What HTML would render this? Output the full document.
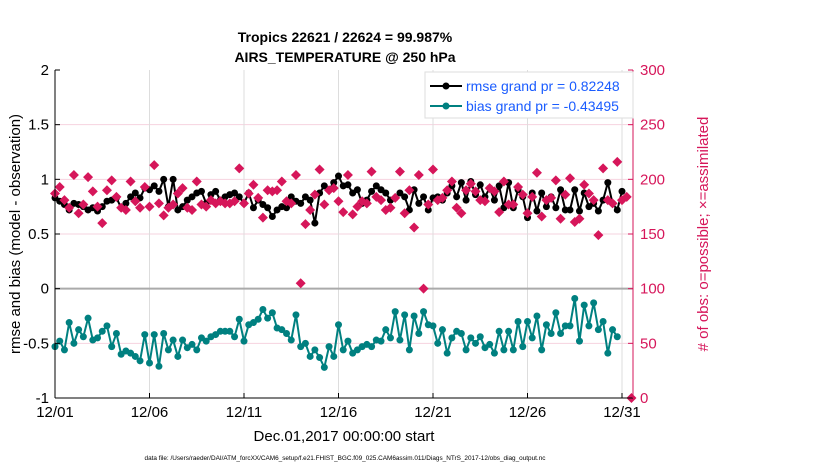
<!DOCTYPE html>
<html><head><meta charset="utf-8"><style>
body{margin:0;background:#fff;width:830px;height:470px;overflow:hidden}
svg{font-family:"Liberation Sans",Arial,sans-serif}
</style></head><body>
<svg id="chart" width="830" height="470">
<text x="345" y="42" text-anchor="middle" font-size="14" font-weight="bold">Tropics 22621 / 22624 = 99.987%</text>
<text x="345" y="62" text-anchor="middle" font-size="14" font-weight="bold">AIRS_TEMPERATURE @ 250 hPa</text>
<g id="grid"></g><g id="series"></g><g id="axes"></g>
<text transform="translate(20,234) rotate(-90)" text-anchor="middle" font-size="15">rmse and bias (model - observation)</text>
<text transform="translate(708,234) rotate(-90)" text-anchor="middle" font-size="15" fill="#d6165a"># of obs: o=possible; ×=assimilated</text>
<text x="344" y="441" text-anchor="middle" font-size="15">Dec.01,2017 00:00:00 start</text>
<text x="345" y="460" text-anchor="middle" font-size="6.4">data file: /Users/raeder/DAI/ATM_forcXX/CAM6_setup/f.e21.FHIST_BGC.f09_025.CAM6assim.011/Diags_NTrS_2017-12/obs_diag_output.nc</text>
<g>
<rect x="425" y="72" width="208" height="46" fill="#fff" stroke="#ddd"/>
<line x1="430" y1="86" x2="462" y2="86" stroke="#000" stroke-width="2"/><circle cx="446" cy="86" r="3.5" fill="#000"/>
<text x="466" y="91" font-size="14" fill="#1a5cff">rmse grand pr = 0.82248</text>
<line x1="430" y1="106" x2="462" y2="106" stroke="#008080" stroke-width="2"/><circle cx="446" cy="106" r="3.5" fill="#008080"/>
<text x="466" y="111" font-size="14" fill="#1a5cff">bias grand pr = -0.43495</text>
</g>
</svg>
<script>
const xTickLabels=["12/01","12/06","12/11","12/16","12/21","12/26","12/31"];
const yTicks=[-1,-0.5,0,0.5,1,1.5,2];
const yTickLabels=["-1","-0.5","0","0.5","1","1.5","2"];
const rTicks=[0,50,100,150,200,250,300];
const stepDays=0.25;
const rmse=[0.83,0.80,0.77,0.72,0.78,0.77,0.75,0.72,0.74,0.71,0.75,0.80,0.81,0.83,0.74,0.78,0.84,0.875,0.83,0.92,0.905,0.94,0.89,1.0,0.75,1.0,0.72,0.75,0.81,0.84,0.875,0.89,0.78,0.86,0.89,0.81,0.84,0.86,0.875,0.84,
0.78,0.875,0.74,0.81,0.77,0.74,0.66,0.72,0.75,0.74,0.84,0.80,0.78,0.84,0.81,0.60,0.875,0.94,0.905,0.97,1.03,0.94,0.95,0.875,0.905,0.78,0.81,0.89,0.94,0.905,0.875,0.81,0.83,0.875,0.84,0.72,0.905,0.78,0.84,0.72,0.83,0.84,
0.81,0.875,0.94,0.84,0.97,0.81,0.98,0.86,0.95,0.84,0.92,0.81,0.94,0.74,0.97,0.74,0.905,0.84,0.65,0.875,0.71,0.875,0.75,0.84,0.74,0.905,0.72,0.72,0.905,0.71,0.875,0.75,0.78,0.71,0.81,0.97,0.78,0.72,0.89];
const bias=[-0.53,-0.48,-0.56,-0.31,-0.50,-0.375,-0.44,-0.27,-0.47,-0.45,-0.39,-0.34,-0.53,-0.41,-0.60,-0.57,-0.59,-0.62,-0.66,-0.42,-0.68,-0.42,-0.71,-0.41,-0.56,-0.47,-0.62,-0.47,-0.54,-0.51,-0.56,-0.45,-0.48,-0.44,-0.42,-0.39,-0.39,-0.39,-0.44,-0.28,
-0.48,-0.33,-0.31,-0.28,-0.19,-0.27,-0.22,-0.36,-0.375,-0.41,-0.47,-0.24,-0.53,-0.50,-0.62,-0.56,-0.63,-0.72,-0.53,-0.62,-0.33,-0.56,-0.48,-0.59,-0.56,-0.53,-0.51,-0.53,-0.47,-0.48,-0.375,-0.45,-0.21,-0.47,-0.24,-0.56,-0.25,-0.41,-0.21,-0.33,-0.34,-0.50,
-0.375,-0.59,-0.45,-0.39,-0.41,-0.56,-0.45,-0.50,-0.44,-0.54,-0.51,-0.59,-0.39,-0.56,-0.39,-0.56,-0.30,-0.53,-0.30,-0.45,-0.25,-0.56,-0.33,-0.41,-0.22,-0.41,-0.34,-0.34,-0.09,-0.48,-0.15,-0.34,-0.13,-0.375,-0.30,-0.59,-0.375,-0.44];
const obsCount=[187,193,181,174,204,169,177,202,189,175,160,190,199,184,174,172,198,180,174,193,175,213,178,167,174,177,187,192,174,172,198,177,175,181,178,180,178,178,180,210,178,
187,195,183,165,190,189,190,198,180,178,204,105,159,172,186,209,177,190,192,180,170,204,168,175,180,178,207,184,181,172,174,183,207,169,190,156,204,100,177,209,181,
183,190,198,174,169,190,196,189,181,180,192,189,170,198,177,177,193,186,169,184,206,166,181,183,199,164,186,201,161,164,195,187,181,149,210,181,178,216,181,184,0];
const NS="http://www.w3.org/2000/svg";
const L=55,R=633,T=70,B=398,dayPx=(622-55)/30;
const xs=d=>L+d*dayPx;
const yL=v=>B-(v+1)/3*(B-T);
const yR=c=>B-c/300*(B-T);
function mk(tag,attrs,parent){const e=document.createElementNS(NS,tag);for(const k in attrs)e.setAttribute(k,attrs[k]);parent.appendChild(e);return e;}
const grid=document.getElementById('grid'),ser=document.getElementById('series'),ax=document.getElementById('axes');
yTicks.forEach((v,i)=>{
 if(v!==0&&v!==2){const g=mk('line',{x1:L,x2:R,y1:yL(v),y2:yL(v),stroke:'#f6d3df','stroke-width':1},grid);
 
 }
 mk('line',{x1:L,x2:L+5,y1:yL(v),y2:yL(v),stroke:'#000'},ax);
 const t=mk('text',{x:L-6,y:yL(v)+5,'text-anchor':'end','font-size':15},ax);t.textContent=yTickLabels[i];
 
 
});
rTicks.forEach(c=>{
 mk('line',{x1:R-5,x2:R,y1:yR(c),y2:yR(c),stroke:'#d6165a'},ax);
 const t=mk('text',{x:R+7,y:yR(c)+5,'font-size':15,fill:'#d6165a'},ax);t.textContent=c;
 
 
});
xTickLabels.forEach((s,i)=>{
 const x=xs(i*5);
 if(i>0){const g=mk('line',{x1:x,x2:x,y1:T,y2:B,stroke:'#ddd'},grid);
 
 }
 mk('line',{x1:x,x2:x,y1:B,y2:B-5,stroke:'#000'},ax);
 const t=mk('text',{x:x,y:417,'text-anchor':'middle','font-size':15},ax);t.textContent=s;
 
 
});
const z=mk('line',{x1:L,x2:R,y1:yL(0),y2:yL(0),stroke:'#aaa','stroke-width':2},grid);


mk('line',{x1:L,x2:L,y1:T,y2:B,stroke:'#000'},ax);
mk('line',{x1:L,x2:R,y1:B,y2:B,stroke:'#000'},ax);
mk('line',{x1:R,x2:R,y1:T,y2:B,stroke:'#d6165a'},ax);
function line(arr,col,name){
 const p=mk('polyline',{points:arr.map((v,i)=>xs(i*stepDays)+','+yL(v)).join(' '),fill:'none',stroke:col,'stroke-width':2},ser);
 
 
 arr.forEach((v,i)=>{const c=mk('circle',{cx:xs(i*stepDays),cy:yL(v),r:3.5,fill:col},ser);
 
 });
}
line(rmse,'#000','rmse');
line(bias,'#008080','bias');
obsCount.forEach((c,i)=>{const x=xs(i*stepDays),y=yR(c),s=5;
 const d=mk('polygon',{points:`${x},${y-s} ${x+s},${y} ${x},${y+s} ${x-s},${y}`,fill:'#d6165a'},ser);
 
 });
</script>
</body></html>
